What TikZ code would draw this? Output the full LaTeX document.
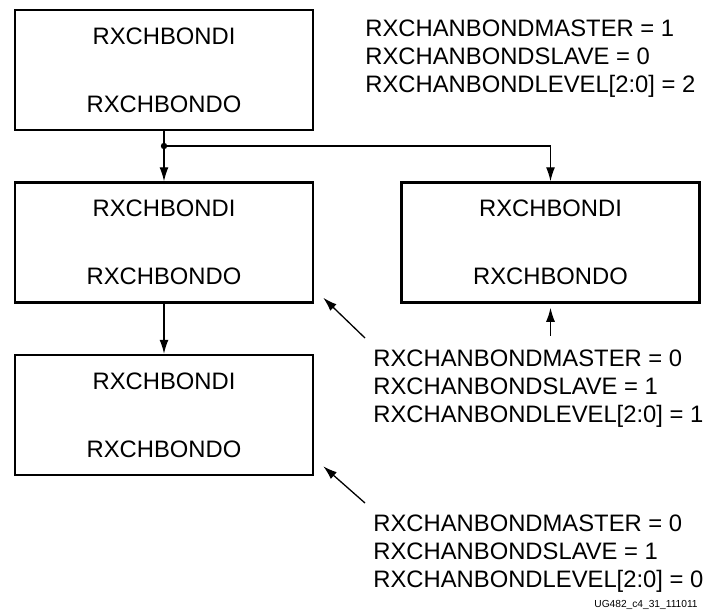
\documentclass[tikz,border=0pt]{standalone}
\usepackage{fontspec}
\setmainfont{Liberation Sans}
\usepackage{tikz}
\usetikzlibrary{arrows.meta, positioning}
\tikzstyle{bondbox} = [draw, line width=1.25pt, minimum width=149pt, minimum height=60pt, inner sep=0pt, align=center, font=\fontsize{11.9}{14}\selectfont]
\tikzstyle{attrs} = [anchor=north west, inner sep=0pt, align=left, font=\fontsize{11.9}{14}\selectfont]
\tikzstyle{wire} = [line width=0.65pt]
\tikzstyle{arrow} = [wire, -{Latex[length=7pt,width=4.5pt]}]
\tikzstyle{dot} = [circle, fill, inner sep=0pt, minimum size=3.2pt]

\begin{document}
\begin{tikzpicture}[x=0.5pt, y=-0.5pt]
            \useasboundingbox (0,0) rectangle (710,612);

            % Boxes
            \node[bondbox] (master) at (164,70) {RXCHBONDI\\[20pt]RXCHBONDO};
            \node[bondbox, below=25pt of master] (slaveA) {RXCHBONDI\\[20pt]RXCHBONDO};
            \node[bondbox, right=43pt of slaveA] (slaveB) {RXCHBONDI\\[20pt]RXCHBONDO};
            \node[bondbox, below=25pt of slaveA] (slaveC) {RXCHBONDI\\[20pt]RXCHBONDO};

            % Attribute settings
            \node[attrs] (cfgM) at (365,19) {RXCHANBONDMASTER = 1\\RXCHANBONDSLAVE = 0\\RXCHANBONDLEVEL[2:0] = 2};
            \node[attrs] (cfgA) at (373,349) {RXCHANBONDMASTER = 0\\RXCHANBONDSLAVE = 1\\RXCHANBONDLEVEL[2:0] = 1};
            \node[attrs] (cfgB) at (373,514) {RXCHANBONDMASTER = 0\\RXCHANBONDSLAVE = 1\\RXCHANBONDLEVEL[2:0] = 0};

            % Bonding chain
            \node[dot] (split) at (164,146) {};
            \draw[wire] (master.south) -- (split.center);
            \draw[arrow] (split.center) -- (slaveA.north);
            \draw[arrow] (split.center) -| (slaveB.north);
            \draw[arrow] (slaveA.south) -- (slaveC.north);

            % Pointers to the settings
            \draw[arrow] ([xshift=-4pt,yshift=5.5pt]cfgA.north west) -- ([xshift=4.5pt,yshift=3pt]slaveA.south east);
            \draw[arrow] ([xshift=-4pt,yshift=5.5pt]cfgB.north west) -- ([xshift=4.5pt,yshift=5pt]slaveC.south east);
            \draw[arrow] ([yshift=-16pt]slaveB.south) -- ([yshift=-2pt]slaveB.south);

            \node[anchor=base east, inner sep=0pt, font=\fontsize{5.1}{6}\selectfont] (figid) at (698,607) {UG482\_c4\_31\_111011};

        \end{tikzpicture}
\end{document}
